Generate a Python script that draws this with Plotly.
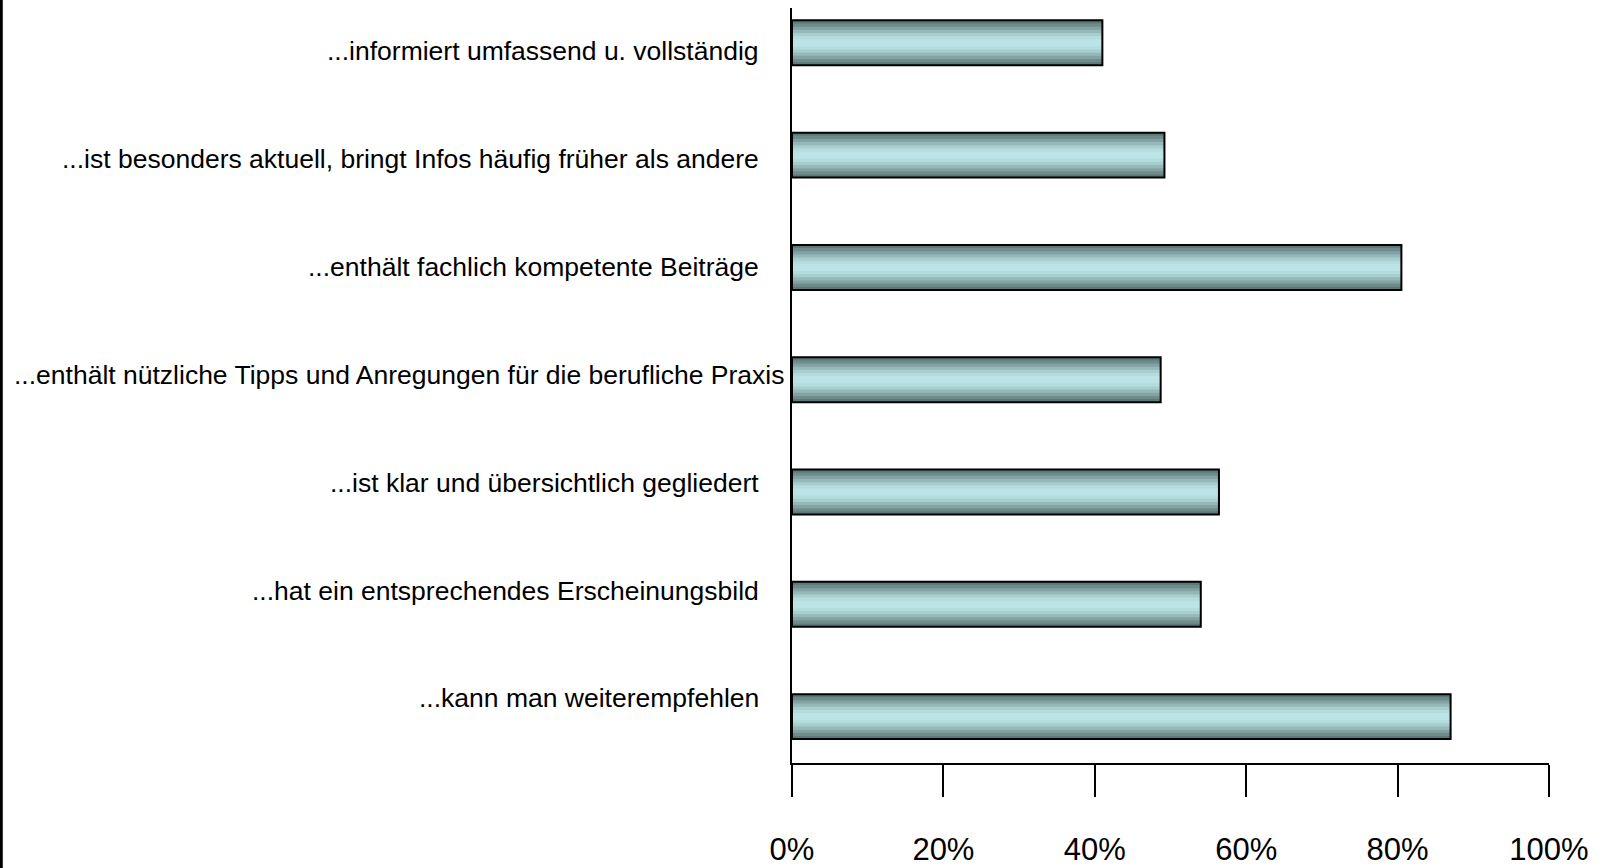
import plotly.graph_objects as go

categories = [
    "...informiert umfassend u. vollständig",
    "...ist besonders aktuell, bringt Infos häufig früher als andere",
    "...enthält fachlich kompetente Beiträge",
    "...enthält nützliche Tipps und Anregungen für die berufliche Praxis",
    "...ist klar und übersichtlich gegliedert",
    "...hat ein entsprechendes Erscheinungsbild",
    "...kann man weiterempfehlen",
]
values = [41, 49.2, 80.5, 48.7, 56.4, 54, 87]
tick_vals = [0, 20, 40, 60, 80, 100]
tick_text = ["0%", "20%", "40%", "60%", "80%", "100%"]

# shading layers (outer -> inner) to imitate the cylindrical gradient
layer_colors = ["#5e7878", "#6f8c8d", "#82a2a3", "#96b8b9", "#a7cdce", "#b4dbdd", "#bce3e5"]
layer_scale = [1.0, 0.86, 0.72, 0.58, 0.44, 0.30, 0.16]
bar_width = 0.40

fig = go.Figure()
for i, (col, sc) in enumerate(zip(layer_colors, layer_scale)):
    fig.add_trace(go.Bar(
        x=values, y=categories, orientation="h",
        width=bar_width * sc,
        marker=dict(color=col, line=dict(width=0)),
        hoverinfo="skip", showlegend=False,
    ))
# outline on top
fig.add_trace(go.Bar(
    x=values, y=categories, orientation="h", width=bar_width,
    marker=dict(color="rgba(0,0,0,0)", line=dict(color="black", width=2)),
    hoverinfo="skip", showlegend=False,
))

# category labels as annotations on an evenly spaced helper axis (y2);
# the longest one is pinned to the left edge, as in the original
longest = max(categories, key=len)
annotations = []
for idx, c in enumerate(categories):
    if c == longest:
        annotations.append(dict(x=12 / 1605, xref="paper", y=idx, yref="y2", text=c,
                                showarrow=False, xanchor="left", font=dict(size=26.5)))
    else:
        annotations.append(dict(x=0, xref="x", y=idx, yref="y2", text=c, xshift=-31,
                                showarrow=False, xanchor="right", font=dict(size=26.5)))

ydomain = [(868 - 763) / 868, (868 - 8) / 868]
fig.update_layout(
    width=1605, height=868,
    margin=dict(l=0, r=0, t=0, b=0, autoexpand=False),
    paper_bgcolor="white", plot_bgcolor="white",
    barmode="overlay",
    font=dict(family="Liberation Sans, Arial, sans-serif", color="black"),
    xaxis=dict(
        domain=[792 / 1605, 1549 / 1605],
        range=[0, 100], tickvals=tick_vals, ticktext=tick_text,
        showgrid=False, zeroline=False,
        showline=True, linecolor="black", linewidth=2,
        ticks="outside", ticklen=32, tickwidth=2, tickcolor="black",
        tickfont=dict(size=31), ticklabelstandoff=26,
        automargin=False, fixedrange=True,
    ),
    yaxis=dict(
        domain=ydomain,
        categoryorder="array", categoryarray=categories,
        range=[6.413, -0.31],
        showgrid=False, zeroline=False,
        showline=True, linecolor="black", linewidth=2,
        ticks="", showticklabels=False,
        automargin=False, fixedrange=True,
    ),
    yaxis2=dict(
        domain=ydomain, overlaying="y", type="linear",
        range=[6.600, -0.4035], visible=False, fixedrange=True,
    ),
    annotations=annotations,
    shapes=[dict(type="line", xref="paper", yref="paper", x0=0.0008, x1=0.0008, y0=0, y1=1,
                 line=dict(color="black", width=3))],
    hovermode=False,
)

fig.write_html("out.html", config={"displayModeBar": False},
               post_script="document.body.style.margin='0';document.body.style.overflow='hidden';")
